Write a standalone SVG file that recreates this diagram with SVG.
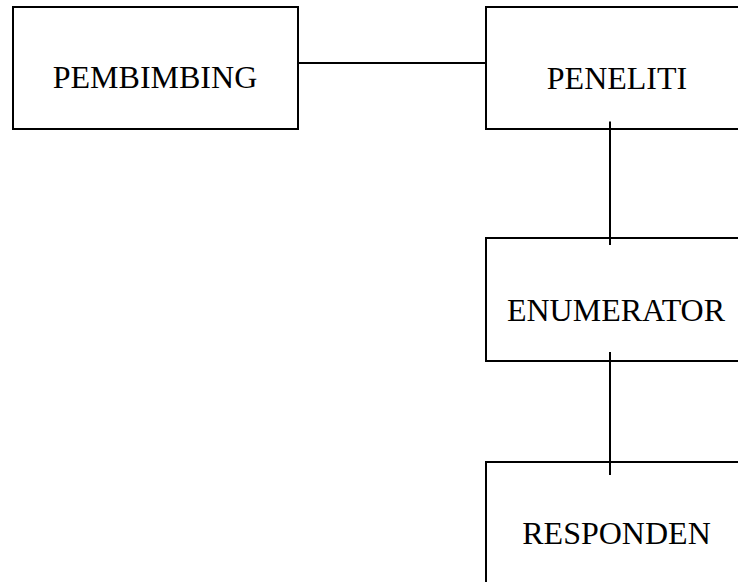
<svg xmlns="http://www.w3.org/2000/svg" width="738" height="582" viewBox="0 0 738 582">
<style>
.box{fill:#fff;stroke:#000;stroke-width:2}
.lbl{font-family:"Liberation Serif","Times New Roman",serif;font-size:32px;fill:#000;text-anchor:middle}
.conn line{stroke:#000;stroke-width:2}
</style>
<rect width="738" height="582" fill="#fff"/>
<g id="pembimbing"><rect class="box" x="13" y="7" width="285" height="122"/><text class="lbl" x="155" y="88">PEMBIMBING</text></g>
<g id="peneliti"><rect class="box" x="486" y="7" width="270" height="122"/><text class="lbl" x="617" y="89">PENELITI</text></g>
<g id="enumerator"><rect class="box" x="486" y="238" width="270" height="123"/><text class="lbl" x="616" y="321">ENUMERATOR</text></g>
<g id="responden"><rect class="box" x="486" y="462" width="270" height="140"/><text class="lbl" x="616.5" y="544">RESPONDEN</text></g>
<g id="connectors" class="conn">
<line x1="298" y1="63" x2="486" y2="63"/>
<line x1="610" y1="121.5" x2="610" y2="245"/>
<line x1="610" y1="352" x2="610" y2="475"/>
</g>
</svg>
